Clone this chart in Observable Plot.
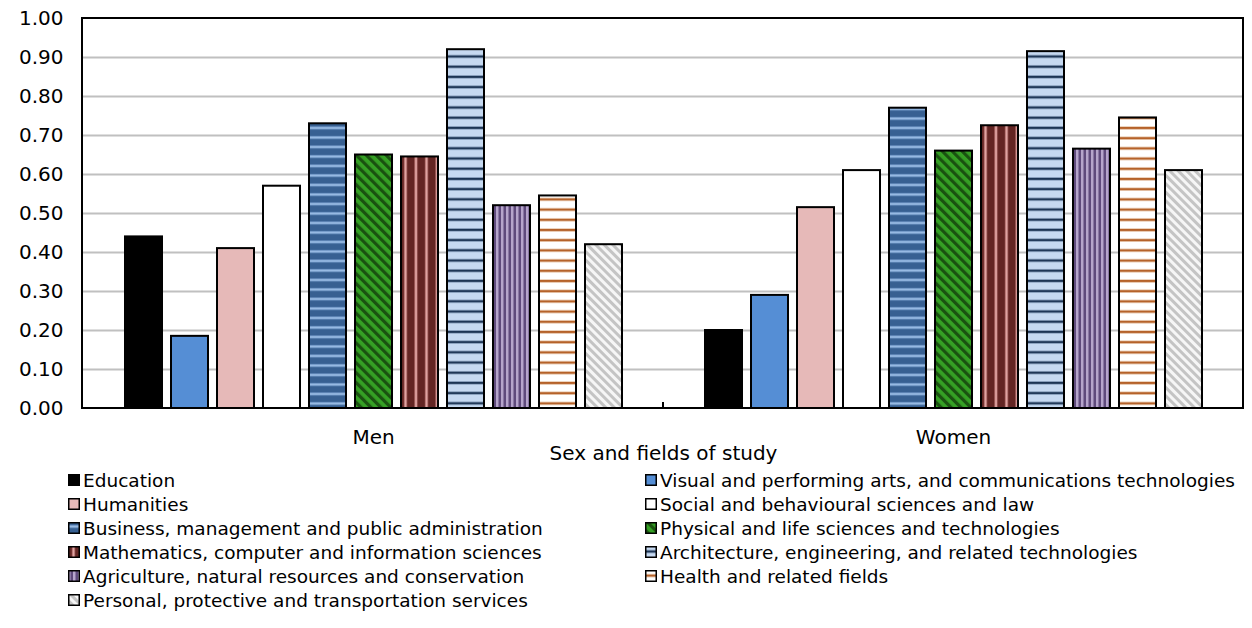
<!DOCTYPE html>
<html><head><meta charset="utf-8">
<script src="https://cdn.jsdelivr.net/npm/d3@7"></script>
<script src="https://cdn.jsdelivr.net/npm/@observablehq/plot@0.6"></script>
<style>
body{margin:0;background:#fff;font-family:"DejaVu Sans",Verdana,sans-serif;}
#legend{display:grid;grid-template-columns:577px 600px;margin-left:68px;}
.item{display:flex;align-items:center;height:24px;font-size:18.5px;color:#000;white-space:nowrap;}
.item svg{margin-right:3px;flex:none;}
</style></head><body>
<svg width="0" height="0" style="position:absolute"><defs>
  <pattern id="p-business" patternUnits="userSpaceOnUse" width="10" height="9.5">
    <rect width="10" height="9.5" fill="#376092"/>
    <rect y="3" width="10" height="3" fill="#6F97C9"/>
    <rect y="3.7" width="10" height="1.6" fill="#9CBEE6"/>
  </pattern>
  <pattern id="p-physical" patternUnits="userSpaceOnUse" width="7" height="7" patternTransform="rotate(-45)">
    <rect width="7" height="7" fill="#35A024"/>
    <rect width="3.2" height="7" fill="#1A5210"/>
  </pattern>
  <pattern id="p-math" patternUnits="userSpaceOnUse" width="10.5" height="10">
    <rect width="10.5" height="10" fill="#632523"/>
    <rect x="4" width="3" height="10" fill="#B56A69"/>
    <rect x="4.6" width="1.8" height="10" fill="#E2A8A6"/>
  </pattern>
  <pattern id="p-arch" patternUnits="userSpaceOnUse" width="10" height="10.2">
    <rect width="10" height="10.2" fill="#C6D9F1"/>
    <rect y="4" width="10" height="3" fill="#6C84A3"/>
    <rect y="4.6" width="10" height="1.8" fill="#1C3454"/>
  </pattern>
  <pattern id="p-agric" patternUnits="userSpaceOnUse" width="5" height="10">
    <rect width="5" height="10" fill="#B6A5CB"/>
    <rect x="2.5" width="2.5" height="10" fill="#5F4A7C"/>
  </pattern>
  <pattern id="p-health" patternUnits="userSpaceOnUse" width="10" height="10.2">
    <rect width="10" height="10.2" fill="#FFFFFF"/>
    <rect y="4" width="10" height="3.2" fill="#E7C2A4"/>
    <rect y="4.6" width="10" height="2" fill="#B5622A"/>
  </pattern>
  <pattern id="p-personal" patternUnits="userSpaceOnUse" width="6" height="6" patternTransform="rotate(-45)">
    <rect width="6" height="6" fill="#F6F6F6"/>
    <rect width="3" height="6" fill="#C4C4C4"/>
  </pattern>
</defs></svg>
<div id="chart"></div>
<div id="legend"></div>
<script>
const sexes = ["Men", "Women"];
const fields = [
  "Education",
  "Visual and performing arts, and communications technologies",
  "Humanities",
  "Social and behavioural sciences and law",
  "Business, management and public administration",
  "Physical and life sciences and technologies",
  "Mathematics, computer and information sciences",
  "Architecture, engineering, and related technologies",
  "Agriculture, natural resources and conservation",
  "Health and related fields",
  "Personal, protective and transportation services"
];
const menValues   = [0.44, 0.185, 0.41, 0.57, 0.73, 0.65, 0.645, 0.92, 0.52, 0.545, 0.42];
const womenValues = [0.20, 0.29, 0.515, 0.61, 0.77, 0.66, 0.725, 0.915, 0.665, 0.745, 0.61];
const fieldFills = [
  "#000000", "#558ED5", "#E6B9B8", "#FFFFFF",
  "url(#p-business)", "url(#p-physical)", "url(#p-math)", "url(#p-arch)",
  "url(#p-agric)", "url(#p-health)", "url(#p-personal)"
];
const yTicks = [0, 0.1, 0.2, 0.3, 0.4, 0.5, 0.6, 0.7, 0.8, 0.9, 1.0];
const xTitle = "Sex and fields of study";

const data = [];
sexes.forEach((s, i) => {
  const vals = i === 0 ? menValues : womenValues;
  fields.forEach((f, j) => data.push({sex: s, field: f, value: vals[j]}));
});

const chart = Plot.plot({
  width: 1252, height: 468,
  marginLeft: 82, marginRight: 9, marginTop: 18, marginBottom: 60,
  style: {fontFamily: "'DejaVu Sans', Verdana, sans-serif", fontSize: "20px", color: "#000", background: "#fff", overflow: "visible"},
  fx: {domain: sexes, padding: 0, label: xTitle, labelAnchor: "center", labelOffset: 51, tickSize: 0, tickPadding: 21, axis: "bottom"},
  x: {domain: fields, paddingInner: 0.2, paddingOuter: 0.8, axis: null},
  y: {domain: [0, 1], ticks: yTicks, tickFormat: d => d.toFixed(2), tickSize: 0, tickPadding: 20, label: null},
  color: {domain: fields, range: fieldFills},
  marks: [
    Plot.ruleY(yTicks.slice(1, -1), {stroke: "#C0C0C0", strokeWidth: 2}),
    Plot.barY(data, {fx: "sex", x: "field", y: "value", fill: "field", stroke: "#000", strokeWidth: 2})
  ]
});
document.getElementById("chart").appendChild(chart);

// frame and category separator tick, derived from Plot's scales
const svg = d3.select(chart);
const fxS = chart.scale("fx"), yS = chart.scale("y");
const [fx0, fx1] = [d3.min(fxS.range), d3.max(fxS.range)];
const [yb, yt] = [d3.max(yS.range), d3.min(yS.range)];
svg.append("rect").attr("x", fx0).attr("y", yt).attr("width", fx1 - fx0).attr("height", yb - yt)
  .attr("fill", "none").attr("stroke", "#000").attr("stroke-width", 2);
const sepX = fxS.apply("Women");
svg.append("line").attr("x1", sepX).attr("x2", sepX).attr("y1", yb - 6).attr("y2", yb)
  .attr("stroke", "#000").attr("stroke-width", 2);

// legend
const legend = d3.select("#legend");
fields.forEach((f, i) => {
  const it = legend.append("div").attr("class", "item");
  const sw = it.append("svg").attr("width", 12).attr("height", 12);
  sw.append("rect").attr("x", 0.75).attr("y", 0.75).attr("width", 10.5).attr("height", 10.5)
    .attr("fill", fieldFills[i]).attr("stroke", "#000").attr("stroke-width", 1.5);
  it.append("span").text(f);
});
</script>
</body></html>
